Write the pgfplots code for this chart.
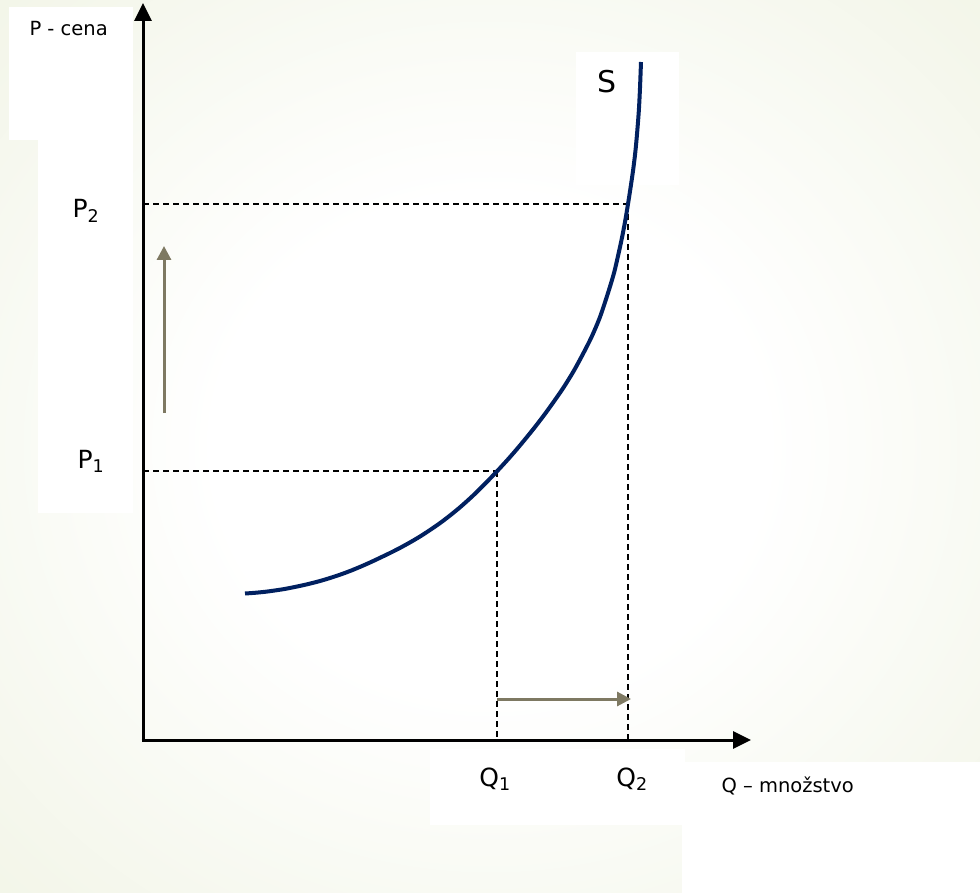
\documentclass[border=0pt]{standalone}
\usepackage{pgfplots}
\pgfplotsset{compat=1.18}
\usepackage{fontspec}
\setmainfont{DejaVu Sans}
\usetikzlibrary{arrows.meta}
\definecolor{navy}{RGB}{0,32,96}
\definecolor{brownarrow}{RGB}{126,121,98}
\definecolor{edgegreen}{RGB}{236,240,220}
\pgfdeclareradialshading{bgshade}{\pgfpoint{0bp}{0bp}}{color(0bp)=(white); color(14bp)=(white); color(32bp)=(edgegreen!55!white); color(50bp)=(edgegreen); color(72bp)=(edgegreen)}
\begin{document}
\begin{tikzpicture}
\begin{axis}[
  scale only axis, width=980pt, height=893pt,
  xmin=0, xmax=980, ymin=0, ymax=893, y dir=reverse,
  hide axis, clip=false]
% background
\shade[shading=bgshade] (axis cs:0,0) rectangle (axis cs:980,893);
% white boxes
\fill[white] (axis cs:9,7) rectangle (axis cs:133,140);
\fill[white] (axis cs:38,140) rectangle (axis cs:133,513);
\fill[white] (axis cs:430,749) rectangle (axis cs:685,825);
\fill[white] (axis cs:682,762) rectangle (axis cs:980,893);
\fill[white] (axis cs:576,52) rectangle (axis cs:679,185);
% dashed guide lines
\addplot[black, line width=1.6pt, dash pattern=on 6pt off 4pt] coordinates {(143,204) (628,204)};
\addplot[black, line width=1.6pt, dash pattern=on 6pt off 4pt] coordinates {(143,471) (497,471)};
\addplot[black, line width=1.6pt, dash pattern=on 6pt off 4pt] coordinates {(497,471) (497,740)};
\addplot[black, line width=1.6pt, dash pattern=on 6pt off 4pt] coordinates {(628,204) (628,740)};
% axes
\addplot[black, line width=3pt, -{Triangle[length=18pt,width=17pt]}] coordinates {(143,741.5) (143,3)};
\addplot[black, line width=3pt, -{Triangle[length=18pt,width=17pt]}] coordinates {(141.5,740) (751,740)};
% shift arrows
\addplot[brownarrow, line width=3pt, -{Triangle[length=14pt,width=14pt]}] coordinates {(164,413) (164,246)};
\addplot[brownarrow, line width=3pt, -{Triangle[length=14pt,width=14pt]}] coordinates {(497,699) (631,699)};
% supply curve
\addplot[navy, line width=4pt, smooth, line join=round] coordinates {
(245,593.5) (255,592.8) (265,591.8) (272,590.9) (285,588.9) (300,585.9) (310,583.6) (320,581.0) (330,578.0) (340,574.7) (350,571.0) (360,566.9) (370,562.5) (380,557.8) (390,553.0) (400,547.9) (410,542.4) (420,536.5) (430,530.0) (440,523.1) (450,515.5) (460,507.3) (470,498.4) (478,490.8) (488,480.7) (497,471.3) (508,459.3) (518,447.8) (528,435.7) (536,425.7) (546,412.5) (556,398.5) (564,386.8) (574,370.5) (584,352) (592,336) (600,317) (608,293) (614,273) (618,256) (621.5,240) (625,222) (628,204) (630.5,188) (633,171) (635,155) (636.5,140) (638,122) (639,108) (640,88) (641,62)};
% labels
\node[anchor=base west, font=\fontsize{19.5}{22}\selectfont] at (axis cs:26,36) {P - cena};
\node[font=\fontsize{25}{28}\selectfont] at (axis cs:86,211) {P\textsubscript{2}};
\node[font=\fontsize{25}{28}\selectfont] at (axis cs:91,461) {P\textsubscript{1}};
\node[font=\fontsize{25}{28}\selectfont] at (axis cs:495,779) {Q\textsubscript{1}};
\node[font=\fontsize{25}{28}\selectfont] at (axis cs:632,779) {Q\textsubscript{2}};
\node[anchor=west, font=\fontsize{19.5}{22}\selectfont] at (axis cs:718,786) {Q – množstvo};
\node[font=\fontsize{30}{34}\selectfont] at (axis cs:607,82) {S};
\end{axis}
\end{tikzpicture}
\end{document}
